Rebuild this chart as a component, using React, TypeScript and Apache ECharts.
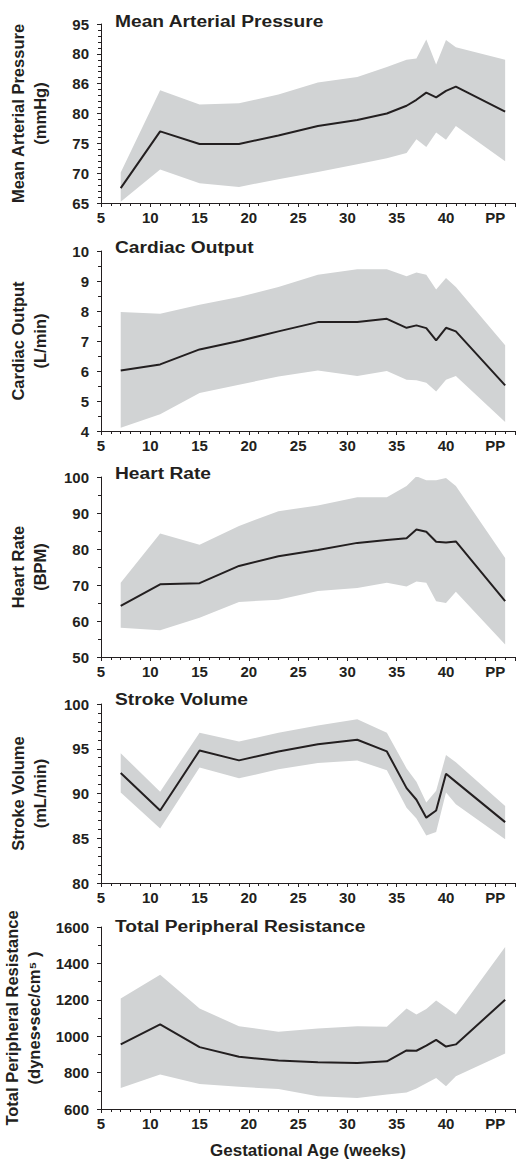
import React, { useEffect, useRef } from 'react';
import * as echarts from 'echarts';

const weeks = [7, 11, 15, 19, 23, 27, 31, 34, 36, 37, 38, 39, 40, 41, 46];
const xTickLabels: Record<number, string> = { 5: '5', 10: '10', 15: '15', 20: '20', 25: '25', 30: '30', 35: '35', 40: '40', 45: 'PP' };
const xAxisTitle = 'Gestational Age (weeks)';

const mapMean = [67.5, 77.0, 74.9, 74.9, 76.3, 77.9, 78.9, 80.0, 81.3, 82.3, 83.5, 82.7, 83.8, 84.5, 80.3];
const mapUpper = [70.1, 83.9, 81.5, 81.7, 83.2, 85.2, 86.1, 87.8, 89.0, 89.2, 92.4, 88.2, 92.3, 91.1, 89.0];
const mapLower = [65.2, 70.6, 68.3, 67.7, 69.0, 70.2, 71.5, 72.5, 73.4, 75.7, 74.4, 76.8, 75.6, 77.9, 72.0];
const mapTickLabels: Record<number, string> = { 65: '65', 70: '70', 75: '75', 80: '80', 85: '86', 90: '80', 95: '95' };

const coMean = [6.02, 6.22, 6.72, 7.0, 7.32, 7.63, 7.63, 7.74, 7.44, 7.52, 7.43, 7.02, 7.44, 7.32, 5.52];
const coUpper = [7.97, 7.91, 8.21, 8.47, 8.8, 9.21, 9.39, 9.39, 9.16, 9.28, 9.21, 8.72, 9.1, 8.8, 6.86];
const coLower = [4.11, 4.56, 5.27, 5.54, 5.82, 6.02, 5.83, 6.0, 5.71, 5.69, 5.61, 5.32, 5.71, 5.83, 4.3];

const hrMean = [64.2, 70.2, 70.5, 75.3, 78.0, 79.7, 81.7, 82.5, 83.0, 85.4, 84.8, 82.0, 81.8, 82.1, 65.5];
const hrUpper = [70.6, 84.3, 81.2, 86.4, 90.5, 92.1, 94.4, 94.4, 97.5, 100.2, 99.1, 99.1, 99.7, 97.5, 77.5];
const hrLower = [58.1, 57.4, 60.9, 65.3, 65.9, 68.3, 69.2, 70.6, 69.6, 71.0, 70.6, 65.5, 65.0, 68.1, 53.5];

const svMean = [92.3, 88.1, 94.8, 93.7, 94.7, 95.5, 96.0, 94.7, 90.6, 89.3, 87.3, 88.1, 92.2, 91.3, 86.8];
const svUpper = [94.5, 90.2, 96.8, 95.8, 96.8, 97.6, 98.3, 96.8, 92.8, 91.3, 89.0, 90.3, 94.3, 93.5, 88.6];
const svLower = [90.1, 86.1, 92.9, 91.7, 92.7, 93.4, 93.7, 92.6, 88.4, 87.2, 85.3, 85.7, 90.1, 88.8, 84.9];

const tprMean = [955, 1065, 940, 887, 866, 857, 853, 862, 922, 920, 948, 980, 943, 955, 1200];
const tprUpper = [1207, 1338, 1152, 1055, 1024, 1042, 1055, 1052, 1152, 1119, 1150, 1196, 1158, 1119, 1490];
const tprLower = [715, 790, 738, 722, 710, 670, 660, 680, 690, 713, 741, 770, 725, 780, 905];

const panelTitles = ['Mean Arterial Pressure', 'Cardiac Output', 'Heart Rate', 'Stroke Volume', 'Total Peripheral Resistance'];
const yAxisNames = [
  'Mean Arterial Pressure\n(mmHg)',
  'Cardiac Output\n(L/min)',
  'Heart Rate\n(BPM)',
  'Stroke Volume\n(mL/min)',
  'Total Peripheral Resistance\n(dynes•sec/cm⁵ )',
];

const means = [mapMean, coMean, hrMean, svMean, tprMean];
const uppers = [mapUpper, coUpper, hrUpper, svUpper, tprUpper];
const lowers = [mapLower, coLower, hrLower, svLower, tprLower];

const FONT = '"Liberation Sans", Arial, Helvetica, sans-serif';
const INK = '#231f20';
const BAND = '#d1d3d4';

const yScales = [
  { min: 65, max: 95, interval: 5, minor: 5 },
  { min: 4, max: 10, interval: 1, minor: 2 },
  { min: 50, max: 100, interval: 10, minor: 2 },
  { min: 80, max: 100, interval: 5, minor: 5 },
  { min: 600, max: 1600, interval: 200, minor: 2 },
];

const gridBoxes = [
  { top: 24, height: 179 },
  { top: 251, height: 180 },
  { top: 477, height: 180 },
  { top: 704, height: 179 },
  { top: 927, height: 182 },
];
const titleY = [21, 247, 473, 699, 926];

export default function App() {
  const ref = useRef<HTMLDivElement>(null);
  useEffect(() => {
    if (!ref.current) return;
    const chart = echarts.init(ref.current, null, { renderer: 'svg' });
    const grid = gridBoxes.map((g) => ({
      left: 101,
      width: 414,
      top: g.top,
      height: g.height,
      containLabel: false,
      outerBoundsMode: 'none',
    }));
    const xAxis = gridBoxes.map((_, i) => ({
      type: 'value',
      gridIndex: i,
      min: 5,
      max: 47,
      interval: 5,
      name: i === 4 ? xAxisTitle : '',
      nameLocation: 'middle',
      nameGap: 33,
      nameTextStyle: { fontFamily: FONT, fontWeight: 'bold', fontSize: 17, color: INK },
      axisLine: { show: true, lineStyle: { color: INK, width: 1 } },
      axisTick: { show: true, length: 4, lineStyle: { color: INK } },
      minorTick: { show: true, splitNumber: 5, length: 3, lineStyle: { color: INK } },
      splitLine: { show: false },
      minorSplitLine: { show: false },
      axisLabel: {
        margin: 7,
        fontFamily: FONT,
        fontWeight: 'bold',
        fontSize: 15,
        color: INK,
        formatter: (v: number) => xTickLabels[Math.round(v)] ?? '',
      },
    }));
    const yAxis = yScales.map((s, i) => ({
      type: 'value',
      gridIndex: i,
      min: s.min,
      max: s.max,
      interval: s.interval,
      name: yAxisNames[i],
      nameLocation: 'middle',
      nameRotate: 90,
      nameGap: 50,
      nameTextStyle: { fontFamily: FONT, fontWeight: 'bold', fontSize: 16.5, color: INK, lineHeight: 22 },
      axisLine: { show: true, lineStyle: { color: INK, width: 1 } },
      axisTick: { show: true, length: 4, lineStyle: { color: INK } },
      minorTick: { show: true, splitNumber: s.minor, length: 3, lineStyle: { color: INK } },
      splitLine: { show: false },
      minorSplitLine: { show: false },
      axisLabel: {
        margin: 12,
        fontFamily: FONT,
        fontWeight: 'bold',
        fontSize: 15,
        color: INK,
        formatter: i === 0 ? (v: number) => mapTickLabels[Math.round(v)] ?? String(v) : (v: number) => String(v),
      },
    }));
    const series: any[] = [];
    for (let i = 0; i < 5; i++) {
      series.push({
        type: 'custom',
        coordinateSystem: 'cartesian2d',
        xAxisIndex: i,
        yAxisIndex: i,
        silent: true,
        clip: true,
        encode: { x: 0, y: [1, 2] },
        data: weeks.map((w, j) => [w, lowers[i][j], uppers[i][j]]),
        renderItem: (params: any, api: any) => {
          if (params.dataIndex !== 0) return null;
          const pts: number[][] = [];
          for (let j = 0; j < weeks.length; j++) pts.push(api.coord([weeks[j], uppers[i][j]]));
          for (let j = weeks.length - 1; j >= 0; j--) pts.push(api.coord([weeks[j], lowers[i][j]]));
          return { type: 'polygon', shape: { points: pts }, style: { fill: BAND, stroke: null } };
        },
      });
      series.push({
        type: 'line',
        xAxisIndex: i,
        yAxisIndex: i,
        symbol: 'none',
        silent: true,
        lineStyle: { color: INK, width: 2 },
        data: weeks.map((w, j) => [w, means[i][j]]),
      });
    }
    chart.setOption({
      animation: false,
      backgroundColor: '#ffffff',
      grid,
      xAxis,
      yAxis,
      series,
      graphic: panelTitles.map((t, i) => ({
        type: 'text',
        x: 115,
        y: titleY[i],
        scaleX: 1.13,
        style: {
          text: t,
          fontFamily: FONT,
          fontWeight: 'bold',
          fontSize: 17,
          fill: INK,
          textVerticalAlign: 'middle',
          verticalAlign: 'middle',
        },
      })),
    });
    return () => chart.dispose();
  }, []);
  return <div ref={ref} style={{ position: 'absolute', left: 0, top: 0, width: 516, height: 1161 }} />;
}
